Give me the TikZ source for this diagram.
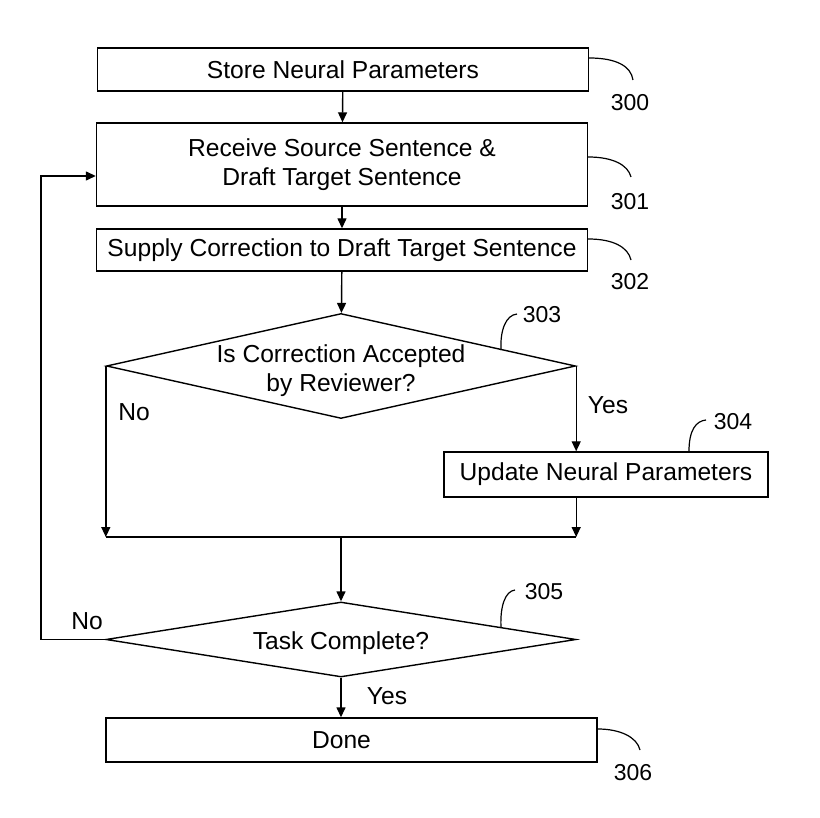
\documentclass[tikz,border=0pt]{standalone}
\usepackage{fontspec}
\setmainfont{Liberation Sans}
\usetikzlibrary{shapes.geometric,arrows.meta}

\tikzset{
  stepbox/.style={draw,line width=1.4pt,inner sep=2pt,align=center,font=\fontsize{24.6}{29.5}\selectfont},
  decision/.style={draw,shape=diamond,aspect=4.5,inner sep=-8pt,line width=1.4pt,align=center,font=\fontsize{24.6}{29}\selectfont},
  flow/.style={line width=1.4pt,-{Triangle[length=10pt,width=9pt]}},
  leader/.style={line width=1.2pt},
  refnum/.style={inner sep=0pt,font=\fontsize{23}{27}\selectfont},
  answer/.style={inner sep=0pt,font=\fontsize{24.6}{29.5}\selectfont}
}

\begin{document}
\begin{tikzpicture}[x=1pt,y=-1pt]
\useasboundingbox (0,0) rectangle (820,818);
% steps of the flow
\node[stepbox,minimum width=491pt,minimum height=43pt] (store) at (343,69.5) {Store Neural Parameters};
\node[stepbox,minimum width=491pt,minimum height=83pt] (receive) at (342,164.5) {Receive Source Sentence \&\\Draft Target Sentence};
\node[stepbox,minimum width=491pt,minimum height=42pt] (supply) at (342,250) {Supply Correction to Draft Target Sentence};
\node[decision,minimum width=469pt,minimum height=105pt] (accept) at (341,366) {\rule{0pt}{28pt}Is Correction Accepted\\by Reviewer?};
\node[stepbox,minimum width=324pt,minimum height=45pt] (update) at (606,474.5) {Update Neural Parameters};
\coordinate (merge) at (341,537);
\node[decision,minimum width=470pt,minimum height=75pt] (complete) at (341,639.5) {\rule{0pt}{26pt}Task Complete?};
\node[stepbox,minimum width=491pt,minimum height=44pt] (done) at (351.5,740) {\kern-20pt Done};
\coordinate (loop) at (41,176);

% connectors
\draw[flow] (store) -- (receive);
\draw[flow] (receive) -- (supply);
\draw[flow] (supply) -- (accept);
\draw[flow] (accept.east) -- (accept.east |- update.north);
\draw[flow] (accept.west) -- (accept.west |- merge);
\draw[flow] (accept.east |- update.south) -- (accept.east |- merge);
\draw[line width=2.4pt] (accept.west |- merge) -- (accept.east |- merge);
\draw[flow] (merge) -- (complete);
\draw[flow] (complete.south) -- (complete.south |- done.north);
\draw[flow] (complete.west) -| (loop) -- (loop -| receive.west);

% branch answers
\node[answer] (acceptno) at (134,412) {No};
\node[answer] (acceptyes) at (608,405) {Yes};
\node[answer] (completeno) at (87,621) {No};
\node[answer] (completeyes) at (387,696) {Yes};

% reference numerals
\draw[leader] (store.east |- 0,58) .. controls (616,58) and (631,66) .. (633,80);
\node[refnum] (ref300) at (630,103) {300};
\draw[leader] (receive.east |- 0,157) .. controls (613,157) and (628,165) .. (631,177);
\node[refnum] (ref301) at (630,202) {301};
\draw[leader] (supply.east |- 0,239) .. controls (613,239) and (628,247) .. (631,260);
\node[refnum] (ref302) at (630,282) {302};
\draw[leader] (501,350) .. controls (500,330) and (506,315) .. (517,314);
\node[refnum] (ref303) at (542,315) {303};
\draw[leader] (update.north -| 689,0) .. controls (689,430) and (696,421) .. (706,420);
\node[refnum] (ref304) at (733,422) {304};
\draw[leader] (501,627) .. controls (500,607) and (505,591) .. (515,590);
\node[refnum] (ref305) at (544,592) {305};
\draw[leader] (done.east |- 0,729) .. controls (620,729) and (637,737) .. (640,750);
\node[refnum] (ref306) at (633,773) {306};
\end{tikzpicture}
\end{document}
